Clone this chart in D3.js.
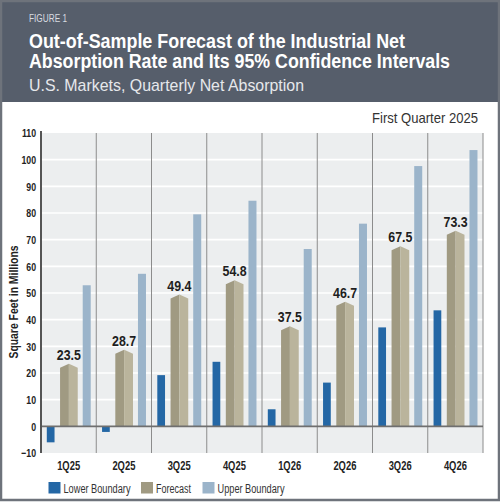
<!DOCTYPE html>
<html>
<head>
<meta charset="utf-8">
<script src="https://cdn.jsdelivr.net/npm/d3@7"></script>
<style>
  body { margin: 0; background: #fff; }
  svg { display: block; }
</style>
</head>
<body>
<div id="chart"></div>
<script>
// chart data
var quarters = ["1Q25", "2Q25", "3Q25", "4Q25", "1Q26", "2Q26", "3Q26", "4Q26"];
var lowerValues = [-6.0, -2.1, 19.2, 24.2, 6.4, 16.4, 37.1, 43.5];
var forecastValues = [23.5, 28.7, 49.4, 54.8, 37.5, 46.7, 67.5, 73.3];
var upperValues = [52.9, 57.2, 79.5, 84.6, 66.5, 76.0, 97.6, 103.6];
var yTicks = [-10, 0, 10, 20, 30, 40, 50, 60, 70, 80, 90, 100, 110];
var legendLabels = ["Lower Boundary", "Forecast", "Upper Boundary"];

var W = 500, H = 502;
var font = "'Liberation Sans', Arial, sans-serif";

// squeeze text horizontally to mimic the condensed face of the original
function condense(sel, f) {
  sel.each(function() {
    var len = this.getComputedTextLength();
    d3.select(this)
        .attr("textLength", len * f)
        .attr("lengthAdjust", "spacingAndGlyphs");
  });
}

var svg = d3.select("#chart").append("svg")
    .attr("width", W)
    .attr("height", H)
    .style("font-family", font);

// header band
svg.append("rect")
    .attr("x", 0).attr("y", 0)
    .attr("width", W).attr("height", 102)
    .style("fill", "#565e6b");

svg.append("text")
    .attr("x", 29).attr("y", 22)
    .attr("textLength", 38).attr("lengthAdjust", "spacingAndGlyphs")
    .style("font-size", "11px")
    .style("fill", "#d9dce1")
    .text("FIGURE 1");

var titleLines = ["Out-of-Sample Forecast of the Industrial Net",
                  "Absorption Rate and Its 95% Confidence Intervals"];
var titleWidths = [376, 421];
titleLines.forEach(function(t, i) {
  svg.append("text")
      .attr("x", 29).attr("y", 47.5 + i * 20.5)
      .attr("textLength", titleWidths[i]).attr("lengthAdjust", "spacingAndGlyphs")
      .style("font-size", "19.5px").style("font-weight", "bold")
      .style("fill", "#ffffff")
      .text(t);
});

svg.append("text")
    .attr("x", 29).attr("y", 90.5)
    .attr("textLength", 275).attr("lengthAdjust", "spacingAndGlyphs")
    .style("font-size", "17px")
    .style("fill", "#e6e8eb")
    .text("U.S. Markets, Quarterly Net Absorption");

svg.append("text")
    .attr("x", 478).attr("y", 122.5)
    .attr("text-anchor", "end")
    .attr("textLength", 106).attr("lengthAdjust", "spacingAndGlyphs")
    .style("font-size", "15px")
    .style("fill", "#333")
    .text("First Quarter 2025");

// scales
var x = d3.scaleBand()
    .domain(quarters)
    .range([41, 483])
    .paddingInner(0).paddingOuter(0);
var y = d3.scaleLinear()
    .domain([-10, 110])
    .range([453, 133]);
var bw = x.bandwidth();

// plot background
svg.append("rect")
    .attr("x", x.range()[0]).attr("y", y(110))
    .attr("width", x.range()[1] - x.range()[0])
    .attr("height", y(-10) - y(110))
    .style("fill", "#eceeef");

// white gridlines
svg.selectAll(".grid")
    .data(yTicks.filter(function(d) { return d !== 0 && d !== -10 && d !== 110; }))
    .enter().append("line")
    .attr("class", "grid")
    .attr("x1", x.range()[0]).attr("x2", x.range()[1])
    .attr("y1", function(d) { return y(d); })
    .attr("y2", function(d) { return y(d); })
    .style("stroke", "#ffffff")
    .style("stroke-width", 1.6);

// vertical separators
svg.selectAll(".sep")
    .data(quarters.slice(1).concat(["end"]))
    .enter().append("line")
    .attr("class", "sep")
    .attr("x1", function(d) { return d === "end" ? x.range()[1] : x(d); })
    .attr("x2", function(d) { return d === "end" ? x.range()[1] : x(d); })
    .attr("y1", y(110)).attr("y2", y(-10))
    .style("stroke", "#8c8c8c")
    .style("stroke-width", 1);

// lower boundary bars
svg.selectAll(".lower")
    .data(quarters)
    .enter().append("rect")
    .attr("class", "lower")
    .attr("x", function(d) { return x(d) + bw * 0.105; })
    .attr("width", bw * 0.14)
    .attr("y", function(d, i) { return y(Math.max(0, lowerValues[i])); })
    .attr("height", function(d, i) { return Math.abs(y(lowerValues[i]) - y(0)); })
    .style("fill", "#2467a5");

// upper boundary bars
svg.selectAll(".upper")
    .data(quarters)
    .enter().append("rect")
    .attr("class", "upper")
    .attr("x", function(d) { return x(d) + bw * 0.755; })
    .attr("width", bw * 0.145)
    .attr("y", function(d, i) { return y(upperValues[i]); })
    .attr("height", function(d, i) { return y(0) - y(upperValues[i]); })
    .style("fill", "#9bb4ca");

// forecast bars, drawn as a two-tone prism with a peaked top
var shoulder = 4;
quarters.forEach(function(q, i) {
  var x0 = x(q) + bw * 0.345, x1 = x0 + bw * 0.32, xc = (x0 + x1) / 2;
  var top = y(forecastValues[i]), base = y(0);
  svg.append("path")
      .attr("d", "M" + x0 + "," + base + "L" + x0 + "," + (top + shoulder) +
                 "L" + xc + "," + top + "L" + xc + "," + base + "Z")
      .style("fill", "#a09a82");
  svg.append("path")
      .attr("d", "M" + xc + "," + base + "L" + xc + "," + top +
                 "L" + x1 + "," + (top + shoulder) + "L" + x1 + "," + base + "Z")
      .style("fill", "#bab49c");
  svg.append("text")
      .attr("class", "vlabel")
      .attr("x", xc).attr("y", top - 4)
      .attr("text-anchor", "middle")
      .style("font-size", "15.5px").style("font-weight", "bold")
      .style("fill", "#1e1e1e")
      .text(forecastValues[i].toFixed(1));
});
condense(svg.selectAll(".vlabel"), 0.8);

// zero line
svg.append("line")
    .attr("x1", x.range()[0]).attr("x2", x.range()[1])
    .attr("y1", y(0)).attr("y2", y(0))
    .style("stroke", "#6f6f6f")
    .style("stroke-width", 1.6);

// y axis
var yAxis = svg.append("g")
    .attr("transform", "translate(" + x.range()[0] + ",0)")
    .call(d3.axisLeft(y).tickValues(yTicks).tickSize(0).tickPadding(5));
yAxis.attr("font-family", null);
yAxis.select(".domain")
    .attr("d", "M0," + (y(110) - 2) + "V" + y(-10))
    .style("stroke", "#555").style("stroke-width", 2);
yAxis.selectAll("text")
    .style("font-size", "11.5px").style("font-weight", "bold")
    .style("fill", "#222");
condense(yAxis.selectAll("text"), 0.76);

svg.append("text")
    .attr("transform", "translate(17.5,302) rotate(-90)")
    .attr("text-anchor", "middle")
    .attr("textLength", 113).attr("lengthAdjust", "spacingAndGlyphs")
    .style("font-size", "12.5px").style("font-weight", "bold")
    .style("fill", "#222")
    .text("Square Feet in Millions");

// x axis labels
var xAxis = svg.append("g")
    .attr("transform", "translate(0," + y(-10) + ")")
    .call(d3.axisBottom(x).tickSize(0).tickPadding(8));
xAxis.attr("font-family", null);
xAxis.select(".domain").remove();
xAxis.selectAll("text")
    .attr("dy", "0.71em")
    .style("font-size", "12.5px").style("font-weight", "bold")
    .style("fill", "#222");
condense(xAxis.selectAll("text"), 0.75);

// legend
var legendColors = ["#2467a5", "#a09a82", "#9bb4ca"];
var legendX = [48.5, 141, 202.5];
var legendTextW = [67, 35, 67];
var legend = svg.selectAll(".legend")
    .data(legendLabels)
    .enter().append("g")
    .attr("class", "legend")
    .attr("transform", function(d, i) { return "translate(" + legendX[i] + ",482)"; });
legend.append("rect")
    .attr("width", 12).attr("height", 11.5)
    .style("fill", function(d, i) { return legendColors[i]; });
legend.append("text")
    .attr("x", 15).attr("y", 10.5)
    .attr("textLength", function(d, i) { return legendTextW[i]; })
    .attr("lengthAdjust", "spacingAndGlyphs")
    .style("font-size", "12px")
    .style("fill", "#333")
    .text(function(d) { return d; });

// outer frame
svg.append("rect")
    .attr("x", 1).attr("y", 1)
    .attr("width", W - 2).attr("height", H - 3)
    .style("fill", "none")
    .style("stroke", "#6e737b")
    .style("stroke-width", 2.5);
</script>
</body>
</html>
